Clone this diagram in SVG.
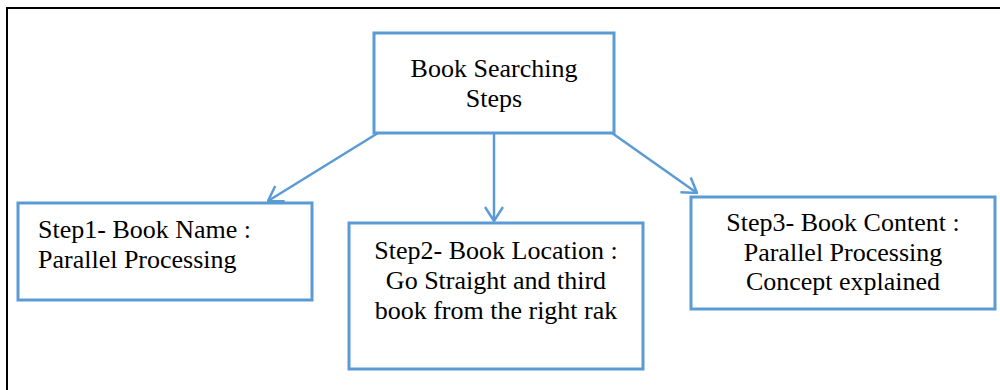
<svg xmlns="http://www.w3.org/2000/svg" width="1000" height="390" viewBox="0 0 1000 390">
<defs>
<style>
.box{fill:#fff;stroke:#5B9BD5;stroke-width:3}
.t{font-family:'Liberation Serif','DejaVu Serif',serif;font-size:26px;fill:#000}
.c{stroke:#5B9BD5;stroke-width:2.5;fill:none}
</style>
<marker id="ah" viewBox="0 0 16 20" refX="15" refY="10" markerWidth="16" markerHeight="20" markerUnits="userSpaceOnUse" orient="auto">
<path d="M1,1 L15,10 L1,19" fill="none" stroke="#5B9BD5" stroke-width="2.5"/>
</marker>
</defs>
<rect x="0" y="0" width="1000" height="390" fill="#fff"/>
<path d="M7,390 V8 H1000" fill="none" stroke="#000" stroke-width="2"/>
<g id="connectors">
<line class="c" x1="378" y1="133" x2="268" y2="201" marker-end="url(#ah)"/>
<line class="c" x1="494" y1="133" x2="494" y2="221" marker-end="url(#ah)"/>
<line class="c" x1="612" y1="133" x2="697" y2="193" marker-end="url(#ah)"/>
</g>
<g id="root">
<rect class="box" x="374" y="33" width="240" height="100"/>
<text class="t" font-family="Liberation Serif, serif" x="494" y="77" text-anchor="middle">Book Searching</text>
<text class="t" font-family="Liberation Serif, serif" x="494" y="107" text-anchor="middle">Steps</text>
</g>
<g id="step1">
<rect class="box" x="18" y="203" width="294" height="97"/>
<text class="t" x="38" y="238">Step1- Book Name :</text>
<text class="t" x="38" y="268">Parallel Processing</text>
</g>
<g id="step2">
<rect class="box" x="349" y="223" width="294" height="146"/>
<text class="t" x="496" y="259" text-anchor="middle">Step2- Book Location :</text>
<text class="t" x="496" y="289" text-anchor="middle">Go Straight and third</text>
<text class="t" x="496" y="319" text-anchor="middle">book from the right rak</text>
</g>
<g id="step3">
<rect class="box" x="691" y="197" width="304" height="112"/>
<text class="t" x="843" y="231" text-anchor="middle">Step3- Book Content :</text>
<text class="t" x="843" y="261" text-anchor="middle">Parallel Processing</text>
<text class="t" x="843" y="290" text-anchor="middle">Concept explained</text>
</g>
</svg>
